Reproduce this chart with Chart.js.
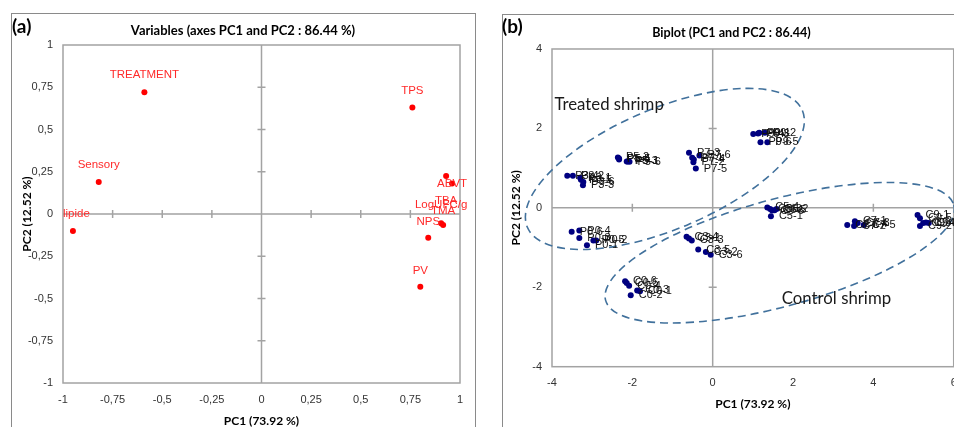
<!DOCTYPE html>
<html><head><meta charset="utf-8">
<script src="https://cdn.jsdelivr.net/npm/chart.js@4.4.1/dist/chart.umd.min.js"></script>
<style>
html,body{margin:0;padding:0;background:#fff;}
body{width:954px;height:427px;overflow:hidden;position:relative;}
.frame{position:absolute;border:1px solid #8a8a8a;box-sizing:border-box;pointer-events:none;}
#frameA{left:11px;top:13px;width:465px;height:440px;}
#frameB{left:502px;top:14px;width:470px;height:440px;}
canvas{position:absolute;top:0;}
#cA{left:11px;}
#cB{left:503px;}
.tag{position:absolute;font-family:Lato,sans-serif;font-weight:bold;font-size:19px;line-height:20px;color:#000;}
</style></head>
<body>
<canvas id="cA" width="464" height="440" style="width:464px;height:440px"></canvas>
<canvas id="cB" width="457" height="440" style="width:457px;height:440px"></canvas>
<div class="frame" id="frameA"></div>
<div class="frame" id="frameB"></div>
<div class="tag" style="left:12px;top:16px">(a)</div>
<div class="tag" style="left:502px;top:16px">(b)</div>
<script>
// ---------- Panel (a): variables ----------
const varNames = ['TREATMENT','TPS','Sensory','lipide','ABVT','TBA','TMA','LogUFC/g','NPS','PV'];
const varPC1   = [-0.59, 0.76, -0.82, -0.95, 0.96, 0.93, 0.915, 0.905, 0.84, 0.80];
const varPC2   = [0.72, 0.63, 0.19, -0.10, 0.18, 0.225, -0.065, -0.055, -0.14, -0.43];
const varTicks      = [-1,-0.75,-0.5,-0.25,0,0.25,0.5,0.75,1];
const varTickLabels = ['-1','-0,75','-0,5','-0,25','0','0,25','0,5','0,75','1'];

// ---------- Panel (b): observations ----------
const obsLabels = [
 'P0-6','P0-4','P0-3','P0-1','P0-5','P0-2',
 'P3-4','P3-2','P3-1','P3-5','P3-6','P3-3',
 'P5-2','P5-5','P5-4','P5-3','P5-1','P5-6',
 'P7-3','P7-6','P7-1','P7-4','P7-2','P7-5',
 'P9-4','P9-3','P9-1','P9-2','P9-6','P9-5',
 'C0-6','C0-5','C0-4','C0-3','C0-1','C0-2',
 'C3-4','C3-1','C3-3','C3-5','C3-2','C3-6',
 'C5-4','C5-3','C5-6','C5-5','C5-2','C5-1',
 'C7-6','C7-1','C7-4','C7-2','C7-3','C7-5',
 'C9-1','C9-5','C9-4','C9-6','C9-2','C9-3'];
const obsPC1 = [
 -3.51,-3.32,-3.32,-3.13,-2.97,-2.90,
 -3.62,-3.48,-3.30,-3.28,-3.22,-3.23,
 -2.36,-2.33,-2.33,-2.14,-2.12,-2.07,
 -0.59,-0.33,-0.51,-0.47,-0.48,-0.42,
  1.01, 1.13, 1.16, 1.30, 1.19, 1.36,
 -2.18,-2.14,-2.08,-1.88,-1.81,-2.04,
 -0.65,-0.59,-0.52,-0.36,-0.17,-0.05,
  1.36, 1.43, 1.48, 1.54, 1.59, 1.45,
  3.35, 3.54, 3.56, 3.52, 3.61, 3.76,
  5.10, 5.16, 5.24, 5.31, 5.16, 5.38];
const obsPC2 = [
 -0.60,-0.57,-0.76,-0.94,-0.82,-0.82,
  0.81, 0.81, 0.76, 0.71, 0.65, 0.57,
  1.27, 1.24, 1.22, 1.17, 1.17, 1.16,
  1.39, 1.32, 1.26, 1.22, 1.15, 0.99,
  1.86, 1.87, 1.89, 1.89, 1.65, 1.65,
 -1.85,-1.89,-1.96,-2.08,-2.10,-2.20,
 -0.73,-0.77,-0.82,-1.05,-1.11,-1.18,
  0.01,-0.03,-0.07,-0.06,-0.03,-0.21,
 -0.43,-0.34,-0.40,-0.46,-0.38,-0.43,
 -0.18,-0.26,-0.38,-0.37,-0.46,-0.38];
const obsTicksX = [-4,-2,0,2,4,6];
const obsTicksXLabels = ['-4','-2','0','2','4','6'];
const obsTicksY = [-4,-2,0,2,4];
const obsTicksYLabels = ['-4','-2','0','2','4'];

// group ellipses (data units) and their captions
const groupNames   = ['Treated shrimp','Control shrimp'];
const ellipseCX    = [-1.19, 1.67];
const ellipseCY    = [0.98, -1.13];
const ellipseRX    = [3.74, 4.52];
const ellipseRY    = [1.51, 1.34];
const ellipseAngle = [23, 15.3];
const captionX     = [-3.94, 1.72];
const captionY     = [2.60, -2.28];

// ---------- helpers ----------
function tickCb(values, labels){
  return v => { const i = values.findIndex(t => Math.abs(t - v) < 1e-9); return i >= 0 ? labels[i] : ''; };
}
const axisColor = '#a3a3a3';

const framePlugin = {
  id: 'pcaFrame',
  beforeDatasetsDraw(chart){
    const {ctx, chartArea:a, scales:{x, y}} = chart;
    ctx.save();
    ctx.strokeStyle = axisColor; ctx.lineWidth = 1.5;
    ctx.strokeRect(a.left, a.top, a.right - a.left, a.bottom - a.top);
    const x0 = x.getPixelForValue(0), y0 = y.getPixelForValue(0);
    ctx.beginPath();
    ctx.moveTo(x0, a.top); ctx.lineTo(x0, a.bottom);
    ctx.moveTo(a.left, y0); ctx.lineTo(a.right, y0);
    x.ticks.forEach(t => { const p = x.getPixelForValue(t.value);
      if (Math.abs(t.value) < 1e-9 || p <= a.left + 1 || p >= a.right - 1) return;
      ctx.moveTo(p, y0 - 4); ctx.lineTo(p, y0 + 4); });
    y.ticks.forEach(t => { const p = y.getPixelForValue(t.value);
      if (Math.abs(t.value) < 1e-9 || p <= a.top + 1 || p >= a.bottom - 1) return;
      ctx.moveTo(x0 - 4, p); ctx.lineTo(x0 + 4, p); });
    ctx.stroke();
    ctx.restore();
  }
};

const labelPlugin = {
  id: 'pointLabels',
  afterDatasetsDraw(chart, args, o){
    if (!o || !o.names) return;
    const {ctx, chartArea:a} = chart;
    const meta = chart.getDatasetMeta(0);
    ctx.save();
    ctx.font = o.font; ctx.fillStyle = o.color; ctx.textBaseline = 'middle';
    meta.data.forEach((pt, i) => {
      const name = o.names[i];
      if (o.mode === 'above') {
        const w = ctx.measureText(name).width;
        let dy = (o.nudge && o.nudge[name] !== undefined) ? o.nudge[name] : -17;
        let lx = pt.x - w / 2;
        if (lx + w > o.maxRight) lx = o.maxRight - w;
        if (lx < a.left) lx = a.left;
        ctx.textAlign = 'left';
        ctx.fillText(name, lx, pt.y + dy);
      } else {
        ctx.textAlign = 'left';
        ctx.fillText(name, pt.x + 8, pt.y);
      }
    });
    ctx.restore();
  }
};

const ellipsePlugin = {
  id: 'groupEllipses',
  afterDatasetsDraw(chart, args, o){
    if (!o || !o.on) return;
    const {ctx, scales:{x, y}} = chart;
    const sx = Math.abs(x.getPixelForValue(1) - x.getPixelForValue(0));
    const sy = Math.abs(y.getPixelForValue(1) - y.getPixelForValue(0));
    const s = (sx + sy) / 2;
    ctx.save();
    ctx.strokeStyle = '#41719c'; ctx.lineWidth = 1.6; ctx.setLineDash([8, 5]);
    for (let i = 0; i < groupNames.length; i++){
      ctx.beginPath();
      ctx.ellipse(x.getPixelForValue(ellipseCX[i]), y.getPixelForValue(ellipseCY[i]),
        ellipseRX[i] * s, ellipseRY[i] * s, -ellipseAngle[i] * Math.PI / 180, 0, Math.PI * 2);
      ctx.stroke();
    }
    ctx.setLineDash([]);
    ctx.font = '16.8px Lato, sans-serif'; ctx.fillStyle = '#1a1a1a';
    ctx.textAlign = 'left'; ctx.textBaseline = 'middle';
    for (let i = 0; i < groupNames.length; i++){
      ctx.fillText(groupNames[i], x.getPixelForValue(captionX[i]), y.getPixelForValue(captionY[i]));
    }
    ctx.restore();
  }
};

function baseScales(cfg){
  const tickFont = {family:'Liberation Sans, Arial, sans-serif', size:11};
  const titleFont = {family:'Lato, sans-serif', size:12, weight:'bold'};
  return {
    x: {type:'linear', position:'bottom', min:cfg.xmin, max:cfg.xmax,
        grid:{display:false, drawTicks:false}, border:{display:false},
        ticks:{stepSize:cfg.xstep, padding:10, color:'#333', font:tickFont, maxRotation:0, autoSkip:false,
               callback: tickCb(cfg.xt, cfg.xtl)},
        title:{display:true, text:'PC1 (73.92 %)', color:'#000', font:titleFont, padding:{top:0, bottom:cfg.xTitlePad}},
        afterFit(s){ s.height = cfg.xHeight; s.paddingLeft = 0; s.paddingRight = 0; }},
    y: {type:'linear', position:'left', min:cfg.ymin, max:cfg.ymax,
        grid:{display:false, drawTicks:false}, border:{display:false},
        ticks:{stepSize:cfg.ystep, padding:10, color:'#333', font:tickFont, autoSkip:false,
               callback: tickCb(cfg.yt, cfg.ytl)},
        title:{display:true, text:'PC2 (12.52 %)', color:'#000', font:titleFont, padding:{top:cfg.yTitlePad, bottom:0}},
        afterFit(s){ s.width = cfg.yWidth; s.paddingTop = 0; s.paddingBottom = 0; }},
    yRight: {type:'linear', position:'right', display:true,
        grid:{display:false, drawTicks:false}, border:{display:false}, ticks:{display:false},
        afterFit(s){ s.width = cfg.rightWidth; s.paddingTop = 0; s.paddingBottom = 0; }}
  };
}

new Chart(document.getElementById('cA'), {
  type:'scatter',
  data:{datasets:[{data: varPC1.map((v, i) => ({x:v, y:varPC2[i]})),
    backgroundColor:'#ff0000', borderWidth:0, pointRadius:3, pointHoverRadius:3}]},
  options:{
    responsive:false, animation:false, events:[],
    layout:{padding:0},
    scales: baseScales({xmin:-1, xmax:1, xstep:0.25, ymin:-1, ymax:1, ystep:0.25,
      xt:varTicks, xtl:varTickLabels, yt:varTicks, ytl:varTickLabels,
      xHeight:57, xTitlePad:12, yWidth:52, yTitlePad:9, rightWidth:15}),
    plugins:{
      legend:{display:false}, tooltip:{enabled:false},
      title:{display:true, text:'Variables (axes PC1 and PC2 : 86.44 %)', color:'#000',
        font:{family:'Lato, sans-serif', size:13, weight:'bold', lineHeight:1.1}, padding:{top:24, bottom:6.7}},
      pointLabels:{names:varNames, mode:'above', font:'11.5px "Liberation Sans", Arial, sans-serif',
        color:'#ff2a2a', maxRight:462, nudge:{'ABVT':0, 'TBA':25, 'TMA':-14, 'LogUFC/g':-18, 'NPS':-16, 'PV':-16}}
    }
  },
  plugins:[framePlugin, labelPlugin]
});

new Chart(document.getElementById('cB'), {
  type:'scatter',
  data:{datasets:[{data: obsPC1.map((v, i) => ({x:v, y:obsPC2[i]})),
    backgroundColor:'#000080', borderWidth:0, pointRadius:3, pointHoverRadius:3}]},
  options:{
    responsive:false, animation:false, events:[],
    layout:{padding:0},
    scales: baseScales({xmin:-4, xmax:6, xstep:2, ymin:-4, ymax:4, ystep:2,
      xt:obsTicksX, xtl:obsTicksXLabels, yt:obsTicksY, ytl:obsTicksYLabels,
      xHeight:73.3, xTitlePad:28.5, yWidth:49, yTitlePad:5.8, rightWidth:6.3}),
    plugins:{
      legend:{display:false}, tooltip:{enabled:false},
      title:{display:true, text:'Biplot (PC1 and PC2 : 86.44)', color:'#000',
        font:{family:'Lato, sans-serif', size:12.6, weight:'bold', lineHeight:1.15}, padding:{top:25.5, bottom:9.0}},
      pointLabels:{names:obsLabels, mode:'right', font:'11px "Liberation Sans", Arial, sans-serif', color:'#111'},
      groupEllipses:{on:true}
    }
  },
  plugins:[framePlugin, ellipsePlugin, labelPlugin]
});
</script>
</body></html>
